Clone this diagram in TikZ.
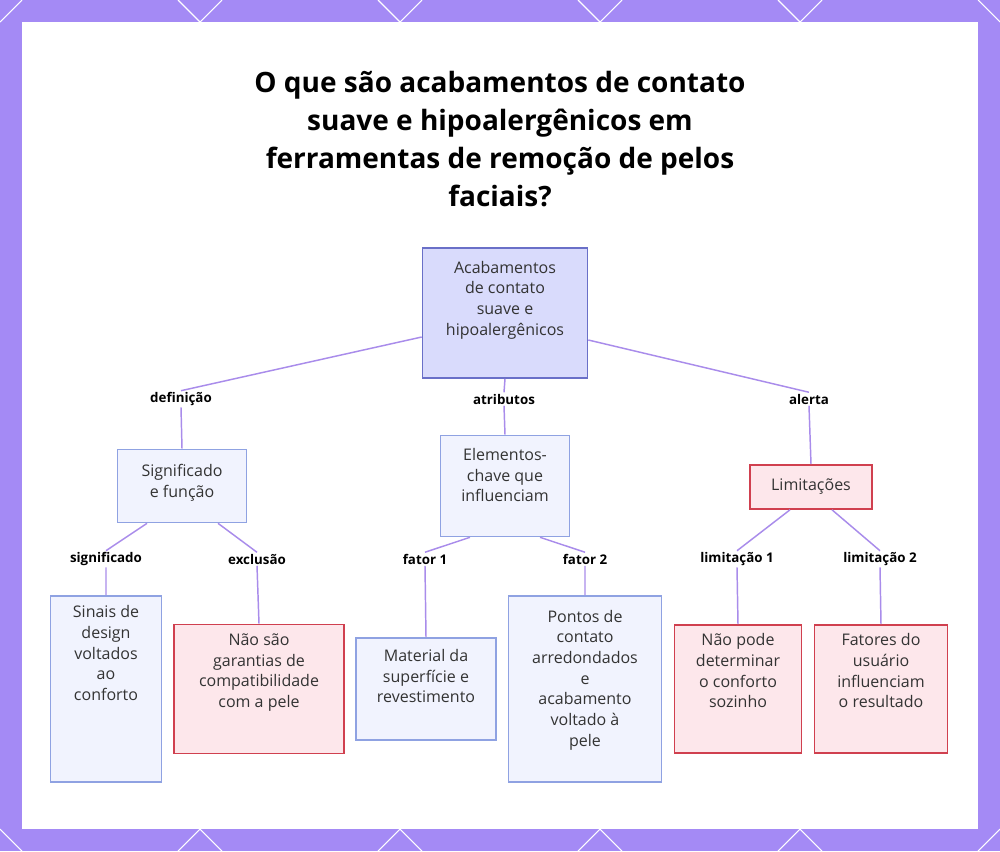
\documentclass[tikz,border=0pt]{standalone}
\usepackage{fontspec}
\setmainfont{Open Sans}
\usetikzlibrary{positioning}
\definecolor{frame}{HTML}{A48AF5}
\definecolor{link}{HTML}{A98CEB}
\definecolor{rootfill}{HTML}{D9DBFC}
\definecolor{rootline}{HTML}{6A70C8}
\definecolor{bluefill}{HTML}{F1F3FE}
\definecolor{blueline}{HTML}{8FA2E2}
\definecolor{redfill}{HTML}{FDE7EB}
\definecolor{redline}{HTML}{D0404F}
\definecolor{txt}{HTML}{333333}

\tikzset{
  box/.style={draw, line width=1.2pt, align=center, text=txt, inner sep=4pt,
    font=\fontsize{12}{15.5}\selectfont},
  info/.style={box, fill=bluefill, draw=blueline},
  warn/.style={box, fill=redfill, draw=redline},
  lab/.style={font=\bfseries\fontsize{10}{12}\selectfont, text=black, inner sep=1pt},
  link/.style={draw=link, line width=1.1pt}
}

\begin{document}
\begin{tikzpicture}[x=0.75pt, y=-0.75pt]
\useasboundingbox (0,0) rectangle (1000,851);
\fill[frame] (0,0) rectangle (1000,851);
\fill[white] (22,22) rectangle (978,829);
% corner strokes of the frame
\foreach \a in {0,200,...,800} {
  \draw[white, line width=0.8pt] (\a,22) -- (\a+22,0);
  \draw[white, line width=0.8pt] (\a+178,0) -- (\a+200,22);
  \draw[white, line width=0.8pt] (\a,829) -- (\a+22,851);
  \draw[white, line width=0.8pt] (\a+178,851) -- (\a+200,829);
}

\node[font=\bfseries\fontsize{21}{28.5}\selectfont, align=center, text=black] (title) at (500,139)
  {O que são acabamentos de contato\\suave e hipoalergênicos em\\ferramentas de remoção de pelos\\faciais?};

\node[box, fill=rootfill, draw=rootline, minimum width=165*0.75pt, minimum height=130*0.75pt] (root) at (505,313)
  {Acabamentos\\de contato\\suave e\\hipoalergênicos\\[7pt]\mbox{}};

\node[info, minimum width=129*0.75pt, minimum height=73*0.75pt] (sig) at (182,486) {Significado\\e função\\[-8pt]\mbox{}};
\node[info, minimum width=129*0.75pt, minimum height=101*0.75pt] (ele) at (505,486) {Elementos-\\chave que\\influenciam\\[1pt]\mbox{}};
\node[warn, minimum width=122*0.75pt, minimum height=44*0.75pt] (lim) at (811,487) {Limitações};

\node[info, minimum width=111*0.75pt, minimum height=186*0.75pt] (sin) at (106,689) {Sinais de\\design\\voltados\\ao\\conforto\\[38.5pt]\mbox{}};
\node[warn, minimum width=170*0.75pt, minimum height=129*0.75pt] (nao) at (259,689) {Não são\\garantias de\\compatibilidade\\com a pele\\[1em]};
\node[info, minimum width=140*0.75pt, minimum height=102*0.75pt] (mat) at (426,689) {Material da\\superfície e\\revestimento\\[4pt]\mbox{}};
\node[info, minimum width=153*0.75pt, minimum height=186*0.75pt] (pon) at (585,689) {Pontos de\\contato\\arredondados\\e\\acabamento\\voltado à\\pele\\[1pt]\mbox{}};
\node[warn, minimum width=127*0.75pt, minimum height=128*0.75pt] (pod) at (738,689) {Não pode\\determinar\\o conforto\\sozinho\\[1em]};
\node[warn, minimum width=133*0.75pt, minimum height=128*0.75pt] (fat) at (881,689) {Fatores do\\usuário\\influenciam\\o resultado\\[1em]};

\node[lab] (ldef) at (181,399) {definição};
\node[lab] (latr) at (504,399) {atributos};
\node[lab] (lale) at (809,399) {alerta};
\node[lab] (lsig) at (106,559) {significado};
\node[lab] (lexc) at (257,559) {exclusão};
\node[lab] (lf1) at (425,559) {fator 1};
\node[lab] (lf2) at (585,559) {fator 2};
\node[lab] (ll1) at (737,559) {limitação 1};
\node[lab] (ll2) at (880,559) {limitação 2};

\path[link] (root.west |- 0,337) -- (ldef.north) (ldef.south) -- (sig.north);
\path[link] (root.south) -- (latr.north) (latr.south) -- (ele.north);
\path[link] (root.east |- 0,340) -- (lale.north) (lale.south) -- (lim.north);
\path[link] (sig.south -| 147,0) -- (lsig.north) (lsig.south) -- (sin.north);
\path[link] (sig.south -| 218,0) -- (lexc.north) (lexc.south) -- (nao.north);
\path[link] (ele.south -| 470,0) -- (lf1.north) (lf1.south) -- (mat.north);
\path[link] (ele.south -| 540,0) -- (lf2.north) (lf2.south) -- (pon.north);
\path[link] (lim.south -| 790,0) -- (ll1.north) (ll1.south) -- (pod.north);
\path[link] (lim.south -| 832,0) -- (ll2.north) (ll2.south) -- (fat.north);
\end{tikzpicture}
\end{document}
